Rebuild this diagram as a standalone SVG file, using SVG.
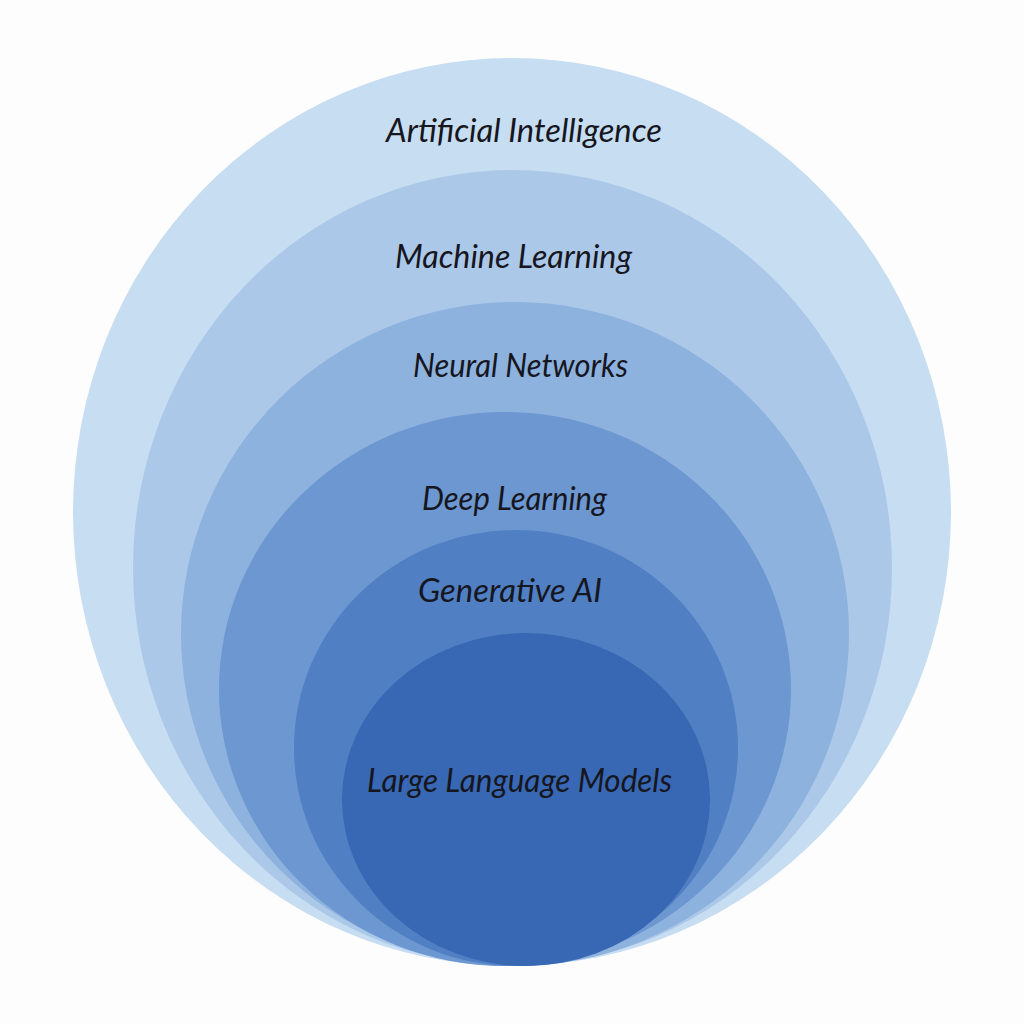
<svg xmlns="http://www.w3.org/2000/svg" width="1024" height="1024" viewBox="0 0 1024 1024">
  <style>
    .lbl { font-family: "Lato", "Noto Sans", "DejaVu Sans", sans-serif; font-style: italic; font-size: 33px; fill: #16161e; }
  </style>
  <rect x="0" y="0" width="1024" height="1024" fill="#fdfdfd"/>
  <g id="node-ai">
    <ellipse cx="512" cy="512" rx="439" ry="454" fill="#c6ddf2"/>
  </g>
  <g id="node-ml">
    <ellipse cx="512.5" cy="568" rx="379.5" ry="398" fill="#abc8e9"/>
  </g>
  <g id="node-nn">
    <ellipse cx="515" cy="634" rx="334" ry="332" fill="#8db2de"/>
  </g>
  <g id="node-dl">
    <ellipse cx="505" cy="689" rx="286" ry="277" fill="#6c97d0"/>
  </g>
  <g id="node-gen">
    <ellipse cx="516" cy="748" rx="222" ry="218" fill="#507fc3"/>
  </g>
  <g id="node-llm">
    <ellipse cx="526" cy="799.5" rx="184" ry="166.5" fill="#3867b3"/>
  </g>
  <g id="labels">
    <text class="lbl" x="386" y="142" textLength="276" lengthAdjust="spacingAndGlyphs">Artificial Intelligence</text>
    <text class="lbl" x="395" y="268" textLength="237" lengthAdjust="spacingAndGlyphs">Machine Learning</text>
    <text class="lbl" x="413" y="377" textLength="215" lengthAdjust="spacingAndGlyphs">Neural Networks</text>
    <text class="lbl" x="422" y="510" textLength="185" lengthAdjust="spacingAndGlyphs">Deep Learning</text>
    <text class="lbl" x="418" y="602" textLength="184" lengthAdjust="spacingAndGlyphs">Generative AI</text>
    <text class="lbl" x="367" y="792" textLength="305" lengthAdjust="spacingAndGlyphs">Large Language Models</text>
  </g>
  <g id="connectors"/>
</svg>
